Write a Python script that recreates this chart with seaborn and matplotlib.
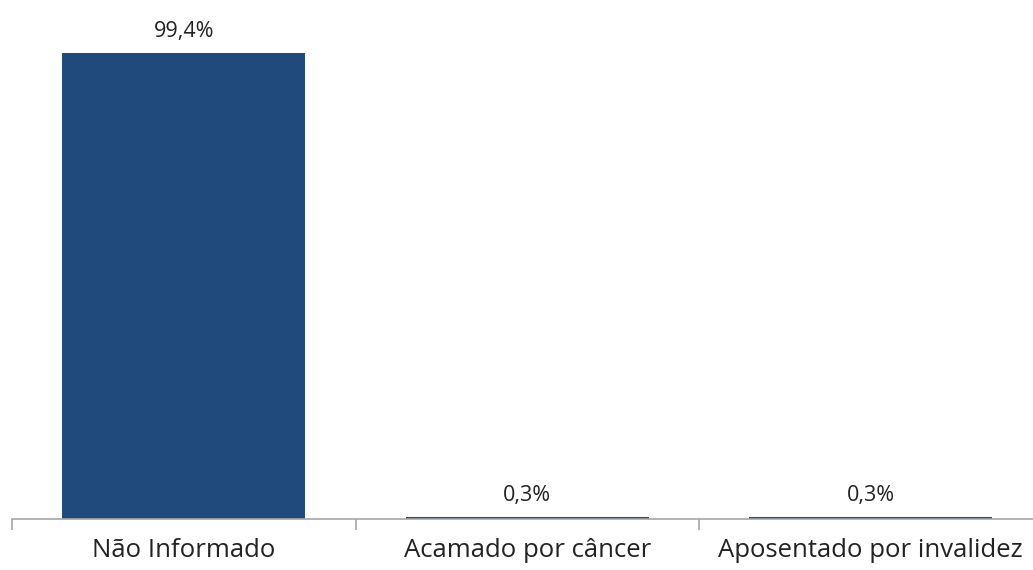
import matplotlib
matplotlib.use("Agg")
import matplotlib.pyplot as plt
import seaborn as sns
import pandas as pd

categorias = ["Não Informado", "Acamado por câncer", "Aposentado por invalidez"]
percentuais = [99.4, 0.3, 0.3]
rotulos = ["99,4%", "0,3%", "0,3%"]

sns.set_theme(style="white")
plt.rcParams["font.family"] = ["Open Sans", "DejaVu Sans"]

df = pd.DataFrame({"categoria": categorias, "pct": percentuais})

fig = plt.figure(figsize=(10.33, 5.70), dpi=100)
W, H = 1033, 570
ax = fig.add_axes([12 / W, 51.5 / H, 1030.5 / W, 468.3 / H])

sns.barplot(data=df, x="categoria", y="pct", color="#1F4A7B", saturation=1,
            width=0.707, linewidth=0, ax=ax)

ax.set_xlim(-0.5, 2.5)
ax.set_ylim(0, 100)

for i, (v, lab) in enumerate(zip(percentuais, rotulos)):
    ax.annotate(lab, (i, v), xytext=(0, 8), textcoords="offset points",
                ha="center", va="bottom", fontsize=15.5, color="#222222")

# eixo
for s in ["top", "right", "left"]:
    ax.spines[s].set_visible(False)
ax.spines["bottom"].set_color("#A6A6A6")
ax.spines["bottom"].set_linewidth(1.2)
ax.set_yticks([])
ax.set_xlabel("")
ax.set_ylabel("")
ax.set_xticks([-0.5, 0.5, 1.5, 2.5], minor=True)
ax.tick_params(axis="x", which="minor", length=8, width=1.2, color="#A6A6A6",
               direction="out", bottom=True)
ax.tick_params(axis="x", which="major", length=0, pad=14, labelsize=18.5,
               labelcolor="#222222")

fig.savefig("out.png", dpi=100)
